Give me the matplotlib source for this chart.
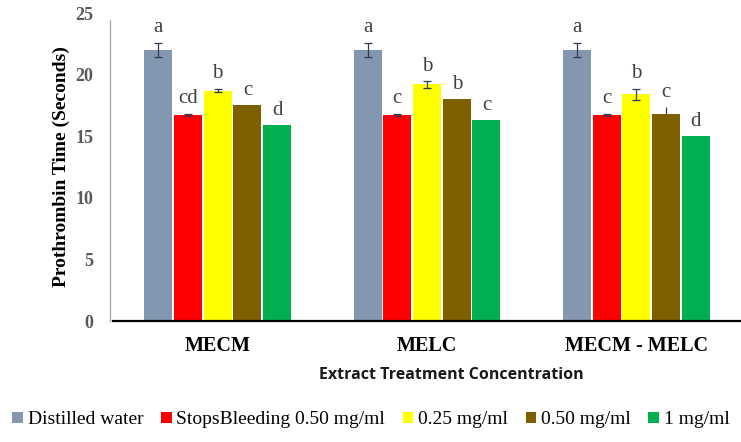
import matplotlib.pyplot as plt
import numpy as np

groups = ['MECM', 'MELC', 'MECM - MELC']
series = ['Distilled water', 'StopsBleeding 0.50 mg/ml', '0.25 mg/ml', '0.50 mg/ml', '1 mg/ml']
colors = ['#8497B0', '#FF0000', '#FFFF00', '#7F6000', '#00B050']

# rows = series, cols = groups
values = [
    [22.0, 22.0, 22.0],
    [16.7, 16.7, 16.7],
    [18.7, 19.2, 18.4],
    [17.5, 18.0, 16.8],
    [15.9, 16.3, 15.0],
]
err_low = [
    [0.6, 0.6, 0.6],
    [0.1, 0.1, 0.1],
    [0.15, 0.25, 0.45],
    [0.0, 0.0, 0.0],
    [0.0, 0.0, 0.0],
]
err_high = [
    [0.6, 0.6, 0.6],
    [0.1, 0.1, 0.1],
    [0.15, 0.25, 0.45],
    [0.0, 0.0, 0.55],
    [0.0, 0.0, 0.0],
]
letters = [
    ['a', 'a', 'a'],
    ['cd', 'c', 'c'],
    ['b', 'b', 'b'],
    ['c', 'b', 'c'],
    ['d', 'c', 'd'],
]
yticks = [0, 5, 10, 15, 20, 25]

serif = ['Liberation Serif', 'DejaVu Serif']

fig = plt.figure(figsize=(7.41, 4.42), dpi=100)
ax = fig.add_axes([113/741, 1 - 321/442, 628/741, 308/442])

# spines first: set_position resets the ticks
ax.spines['top'].set_visible(False)
ax.spines['right'].set_visible(False)
ax.spines['left'].set_position(('outward', 2))
ax.spines['left'].set_color('#A6A6A6')
ax.spines['left'].set_linewidth(0.9)
ax.spines['bottom'].set_color('black')
ax.spines['bottom'].set_linewidth(1.6)

x = np.arange(len(groups))
step = 0.142
width = 0.134

for i, name in enumerate(series):
    pos = x + (i - 2) * step
    ax.bar(pos, values[i], width, color=colors[i], label=name, zorder=2)
    for j in range(len(groups)):
        top = values[i][j]
        lo, hi = err_low[i][j], err_high[i][j]
        if hi > 0:
            ax.errorbar(pos[j], top, yerr=[[lo], [hi]], fmt='none', ecolor='#2F3B52',
                        elinewidth=0.9, capsize=3 if lo > 0 else 0, capthick=0.9, zorder=3)
        ax.annotate(letters[i][j], (pos[j], top + hi), xytext=(0, 4),
                    textcoords='offset points', ha='center', va='bottom',
                    fontsize=15, family=serif, color='#404040')

ax.set_xlim(-0.5, 2.5)
ax.set_ylim(0, 25)
ax.spines['left'].set_bounds(0, 24.4)
ax.set_yticks(yticks)
ax.set_yticklabels([str(t) for t in yticks], fontsize=13, fontweight='bold',
                   family=serif, color='#595959')
ax.set_xticks(x)
ax.set_xticklabels(groups, fontsize=14.5, fontweight='bold', family=serif)
ax.tick_params(axis='x', length=0, pad=11)
ax.tick_params(axis='y', length=0, pad=12)

ax.set_ylabel('Prothrombin Time (Seconds)', fontsize=14, fontweight='bold', family=serif)
ax.yaxis.set_label_coords(-0.068, 0.5)

fig.text(451/741, 1 - 375/442, 'Extract Treatment Concentration', ha='center', va='center',
         fontsize=11.5, fontweight='bold', family=['Open Sans', 'DejaVu Sans'], color='#1a1a1a')

fig.legend(loc='center', bbox_to_anchor=(371/741, 1 - 420/442), ncol=5, frameon=False,
           prop={'family': serif, 'size': 14}, handlelength=0.55, handleheight=0.55,
           handletextpad=0.25, columnspacing=0.9, borderaxespad=0)

fig.savefig('out.png', dpi=100)
